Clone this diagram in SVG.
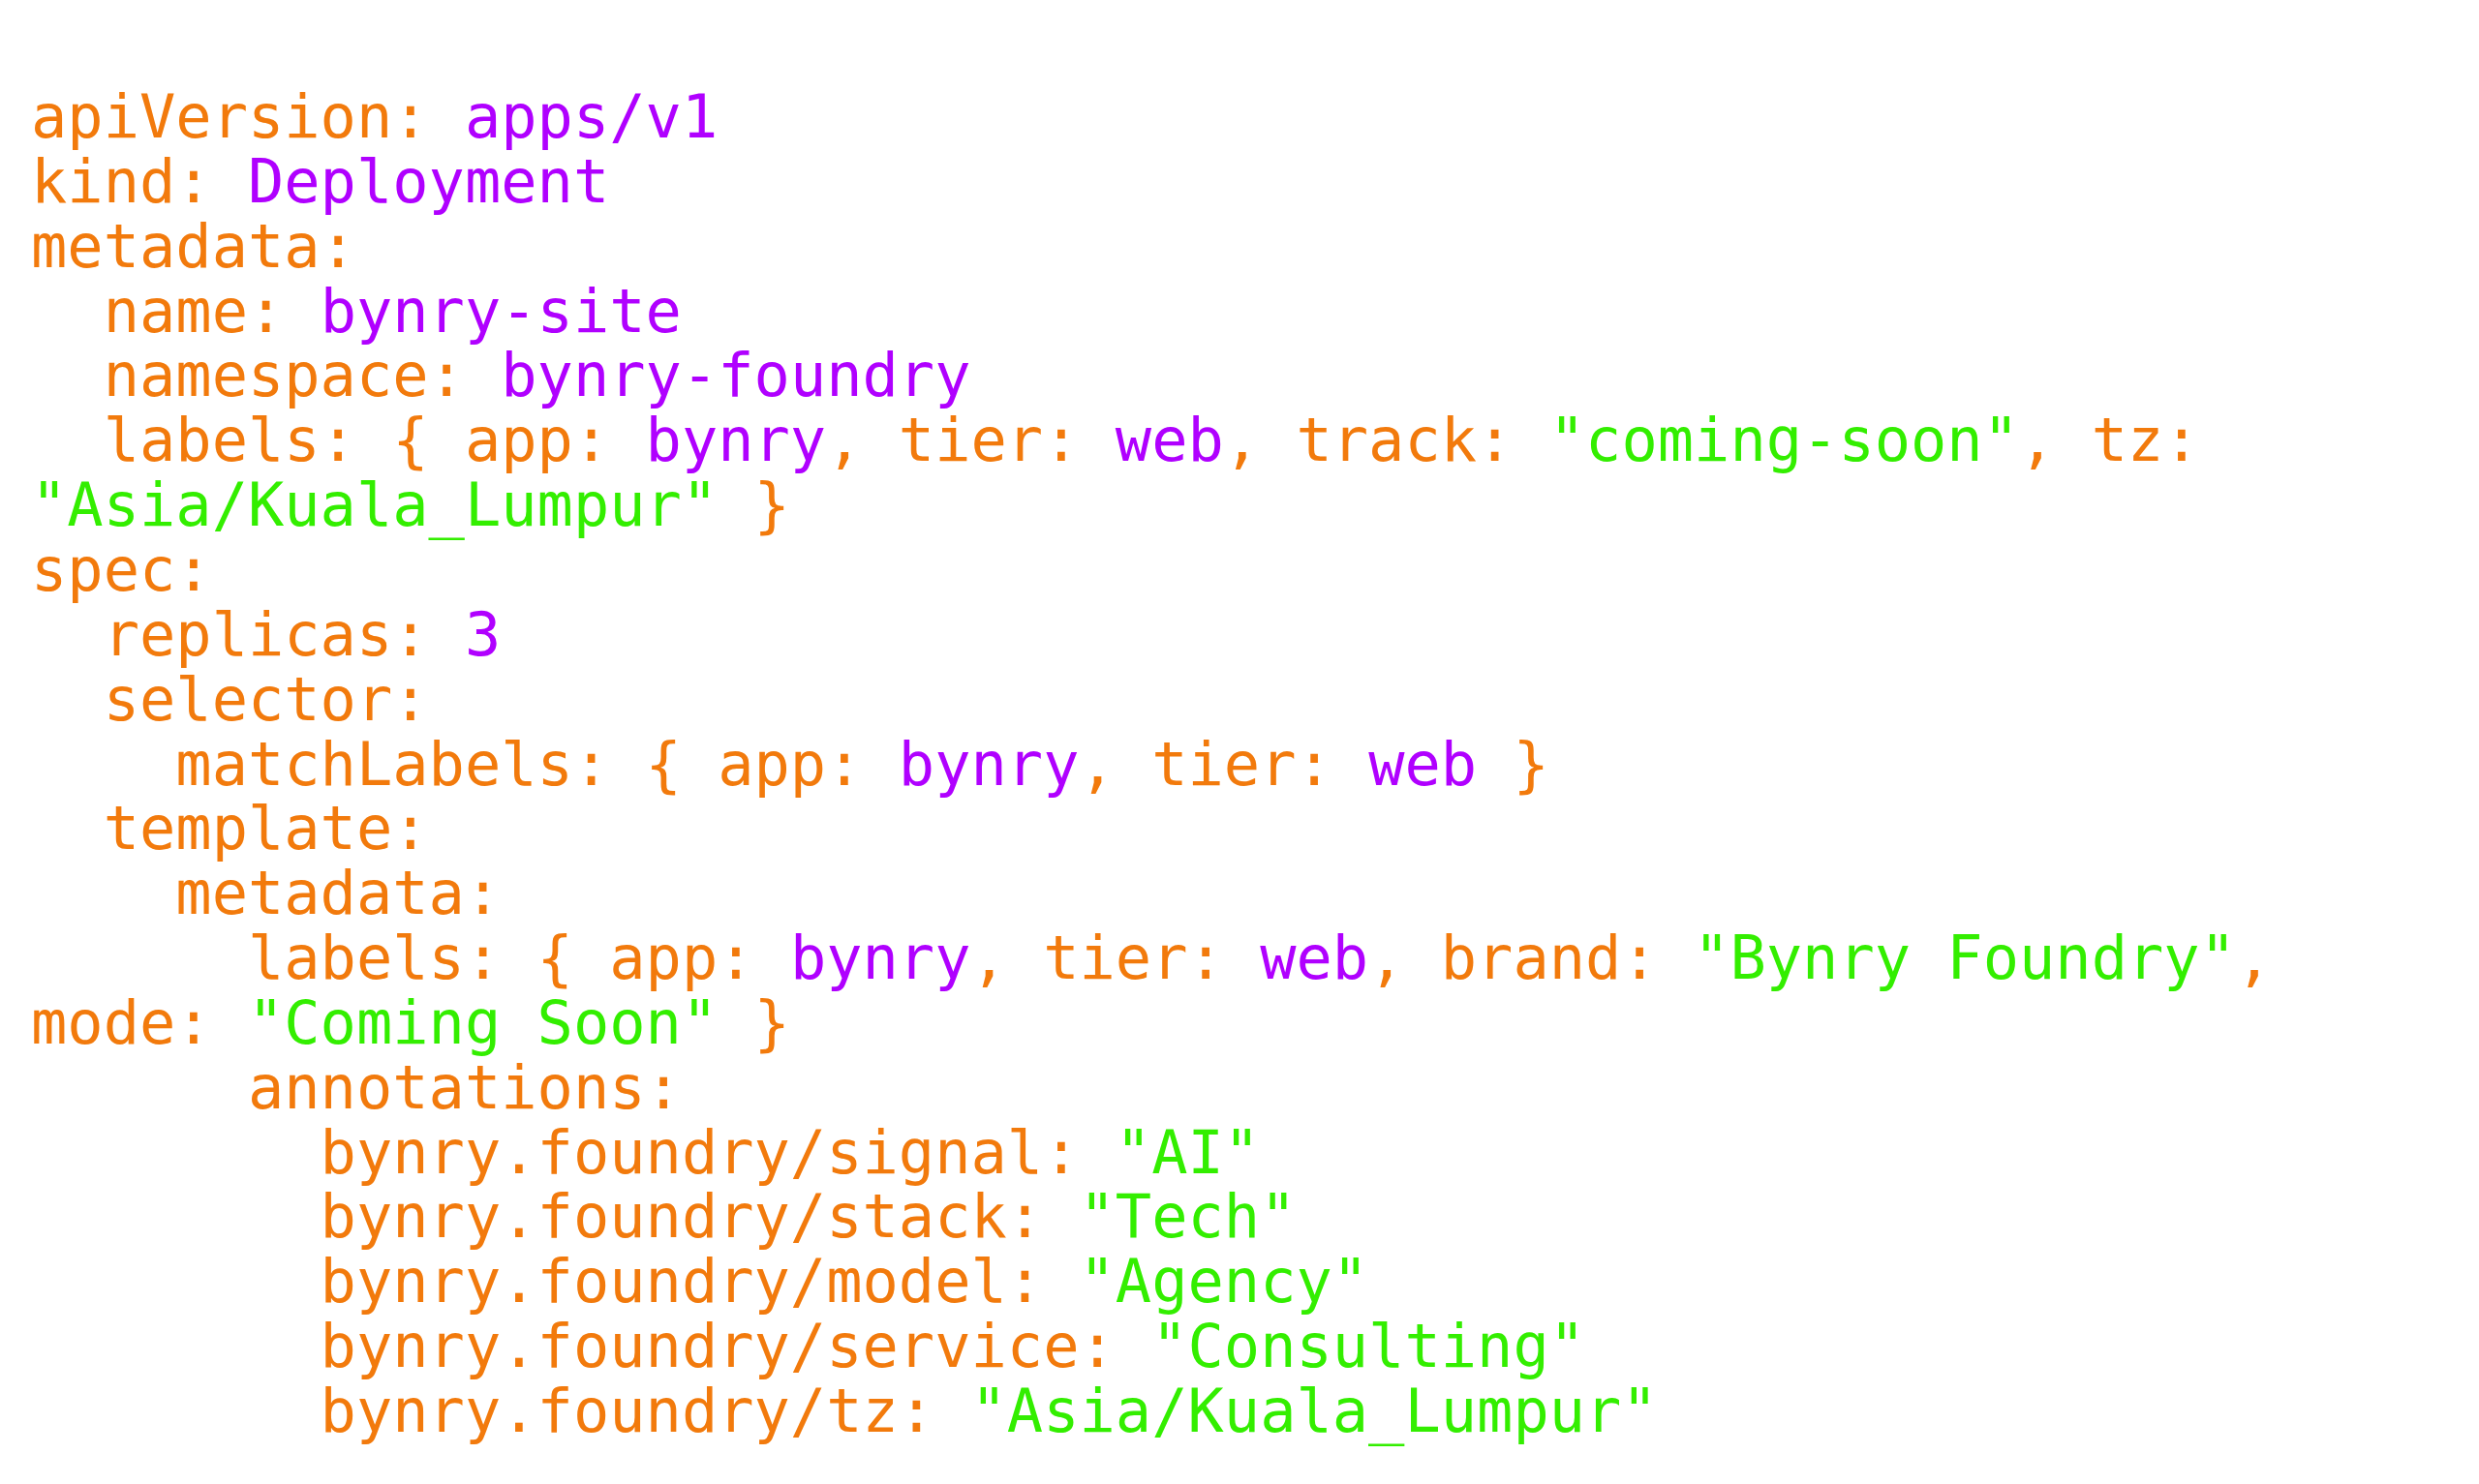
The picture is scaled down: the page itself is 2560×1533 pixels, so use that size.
<svg xmlns="http://www.w3.org/2000/svg" width="2560" height="1533" viewBox="0 0 2560 1533">
<style>
text{font-family:"DejaVu Sans Mono","Liberation Mono",monospace;font-size:62px;white-space:pre}
.k{fill:#F27A0C}
.v{fill:#B000FF}
.s{fill:#33EE00}
</style>
<rect width="2560" height="1533" fill="#FFFFFF"/>
<g id="yaml" class="k" xml:space="preserve">
<text x="32" y="142">apiVersion: <tspan class="v">apps/v1</tspan></text>
<text x="32" y="208.85">kind: <tspan class="v">Deployment</tspan></text>
<text x="32" y="275.7">metadata:</text>
<text x="32" y="342.55">  name: <tspan class="v">bynry-site</tspan></text>
<text x="32" y="409.4">  namespace: <tspan class="v">bynry-foundry</tspan></text>
<text x="32" y="476.25">  labels: { app: <tspan class="v">bynry</tspan>, tier: <tspan class="v">web</tspan>, track: <tspan class="s">"coming-soon"</tspan>, tz:</text>
<text x="32" y="543.1"><tspan class="s">"Asia/Kuala_Lumpur"</tspan> }</text>
<text x="32" y="609.95">spec:</text>
<text x="32" y="676.8">  replicas: <tspan class="v">3</tspan></text>
<text x="32" y="743.65">  selector:</text>
<text x="32" y="810.5">    matchLabels: { app: <tspan class="v">bynry</tspan>, tier: <tspan class="v">web</tspan> }</text>
<text x="32" y="877.35">  template:</text>
<text x="32" y="944.2">    metadata:</text>
<text x="32" y="1011.05">      labels: { app: <tspan class="v">bynry</tspan>, tier: <tspan class="v">web</tspan>, brand: <tspan class="s">"Bynry Foundry"</tspan>,</text>
<text x="32" y="1077.9">mode: <tspan class="s">"Coming Soon"</tspan> }</text>
<text x="32" y="1144.75">      annotations:</text>
<text x="32" y="1211.6">        bynry.foundry/signal: <tspan class="s">"AI"</tspan></text>
<text x="32" y="1278.45">        bynry.foundry/stack: <tspan class="s">"Tech"</tspan></text>
<text x="32" y="1345.3">        bynry.foundry/model: <tspan class="s">"Agency"</tspan></text>
<text x="32" y="1412.15">        bynry.foundry/service: <tspan class="s">"Consulting"</tspan></text>
<text x="32" y="1479">        bynry.foundry/tz: <tspan class="s">"Asia/Kuala_Lumpur"</tspan></text>
</g>
</svg>
